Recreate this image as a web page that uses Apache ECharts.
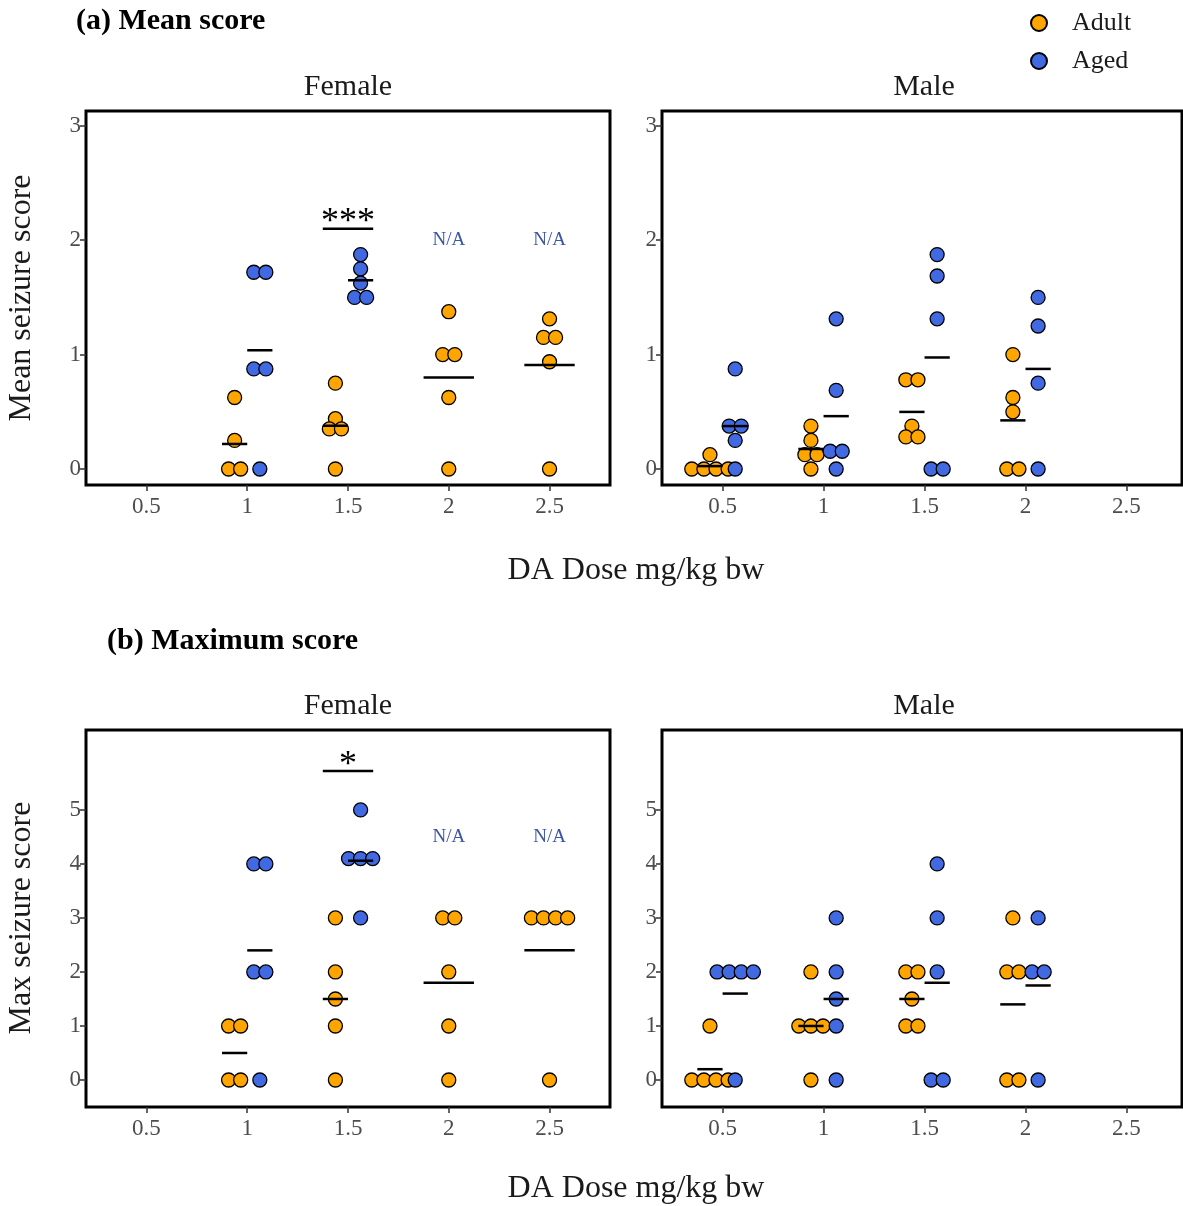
<!DOCTYPE html>
<html>
<head>
<meta charset="utf-8">
<script src="https://cdn.jsdelivr.net/npm/echarts@6/dist/echarts.min.js"></script>
<style>
  html, body { margin: 0; padding: 0; background: #fff; }
  #chart { width: 1183px; height: 1206px; }
</style>
</head>
<body>
<div id="chart"></div>
<script>
// doses per sex panel
var doseFemale = [1, 1.5, 2, 2.5];
var doseMale = [0.5, 1, 1.5, 2];
var xTicks = [0.5, 1, 1.5, 2, 2.5];
var yTicksMean = [0, 1, 2, 3];
var yTicksMax = [0, 1, 2, 3, 4, 5];

// (a) mean seizure score, one list per dose
var meanFemaleAdult = [[0.625, 0.25, 0, 0], [0.75, 0.44, 0.35, 0.35, 0], [1.375, 1, 1, 0.625, 0], [1.3125, 1.15, 1.15, 0.9375, 0]];
var meanFemaleAged = [[1.72, 1.72, 0.875, 0.875, 0], [1.875, 1.75, 1.625, 1.5, 1.5], [], []];
var meanMaleAdult = [[0.125, 0, 0, 0, 0], [0.375, 0.25, 0.125, 0.125, 0], [0.78, 0.78, 0.375, 0.28, 0.28], [1, 0.625, 0.5, 0, 0]];
var meanMaleAged = [[0.875, 0.375, 0.375, 0.25, 0], [1.3125, 0.6875, 0.155, 0.155, 0], [1.875, 1.6875, 1.3125, 0, 0], [1.5, 1.25, 0.75, 0]];

// (b) max seizure score
var maxFemaleAdult = [[1, 1, 0, 0], [3, 2, 1.5, 1, 0], [3, 3, 2, 1, 0], [3, 3, 3, 3, 0]];
var maxFemaleAged = [[4, 4, 2, 2, 0], [5, 4.1, 4.1, 4.1, 3], [], []];
var maxMaleAdult = [[1, 0, 0, 0, 0], [2, 1, 1, 1, 0], [2, 2, 1.5, 1, 1], [3, 2, 2, 0, 0]];
var maxMaleAged = [[2, 2, 2, 2, 0], [3, 2, 1.5, 1, 0], [4, 3, 2, 0, 0], [3, 2, 2, 0]];

// annotations (female panels only)
var sigDose = 1.5;
var sigMeanY = 2.1, sigMaxY = 5.72;
var sigMeanLabel = '***', sigMaxLabel = '*';
var naDoses = [2, 2.5];
var naMeanY = 2.0, naMaxY = 4.5;

var ADULT = '#FFA500', AGED = '#4169E1';
var FONT = '"Liberation Serif", "DejaVu Serif", serif';
var dodge = 0.0625, spread = 0.06;

// equal values side by side, centred on the group
function swarm(values, center) {
  var counts = {}, seen = {};
  values.forEach(function (v) { counts[v] = (counts[v] || 0) + 1; });
  return values.map(function (v) {
    seen[v] = seen[v] === undefined ? 0 : seen[v] + 1;
    return [center + (seen[v] - (counts[v] - 1) / 2) * spread, v];
  });
}
function avg(a) { var s = 0; for (var i = 0; i < a.length; i++) s += a[i]; return s / a.length; }

var panels = [
  { doses: doseFemale, adult: meanFemaleAdult, aged: meanFemaleAged, max: 2.8, yMin: -0.14, yMax: 3.13, yTicks: yTicksMean, sig: [sigDose, sigMeanY, sigMeanLabel], naY: naMeanY },
  { doses: doseMale, adult: meanMaleAdult, aged: meanMaleAged, max: 2.775, yMin: -0.14, yMax: 3.13, yTicks: yTicksMean },
  { doses: doseFemale, adult: maxFemaleAdult, aged: maxFemaleAged, max: 2.8, yMin: -0.5, yMax: 6.48, yTicks: yTicksMax, sig: [sigDose, sigMaxY, sigMaxLabel], naY: naMaxY },
  { doses: doseMale, adult: maxMaleAdult, aged: maxMaleAged, max: 2.775, yMin: -0.5, yMax: 6.48, yTicks: yTicksMax }
];

var grids = [
  { left: 86, top: 111, width: 524, height: 374 },
  { left: 662, top: 111, width: 520, height: 374 },
  { left: 86, top: 730, width: 524, height: 377 },
  { left: 662, top: 730, width: 520, height: 377 }
];

var xAxes = [], yAxes = [], series = [];
var tickStyle = { show: true, length: 6, lineStyle: { color: '#333', width: 1.5 } };
var labelStyle = { color: '#4d4d4d', fontSize: 23, fontFamily: FONT };

panels.forEach(function (p, k) {
  grids[k].show = true;
  grids[k].borderColor = '#000';
  grids[k].borderWidth = 3;
  xAxes.push({
    gridIndex: k, type: 'value', min: 0.2, max: p.max, position: 'bottom',
    axisLine: { show: false, onZero: false }, splitLine: { show: false },
    axisTick: Object.assign({ customValues: xTicks }, tickStyle),
    axisLabel: Object.assign({ customValues: xTicks, margin: 10 }, labelStyle)
  });
  yAxes.push({
    gridIndex: k, type: 'value', min: p.yMin, max: p.yMax, position: 'left',
    axisLine: { show: false, onZero: false }, splitLine: { show: false },
    axisTick: Object.assign({ customValues: p.yTicks }, tickStyle),
    axisLabel: Object.assign({ customValues: p.yTicks, margin: 5 }, labelStyle)
  });

  var adultPts = [], agedPts = [], means = [];
  p.doses.forEach(function (d, j) {
    var a = p.adult[j], g = p.aged[j];
    var both = a.length && g.length;
    var hw = both ? dodge : 2 * dodge;
    if (a.length) {
      var ca = d - (g.length ? dodge : 0);
      adultPts = adultPts.concat(swarm(a, ca));
      means.push([ca, avg(a), hw]);
    }
    if (g.length) {
      var cg = d + (a.length ? dodge : 0);
      agedPts = agedPts.concat(swarm(g, cg));
      means.push([cg, avg(g), hw]);
    }
  });

  [['Adult', ADULT, adultPts], ['Aged', AGED, agedPts]].forEach(function (s, i) {
    series.push({
      name: s[0], type: 'scatter', xAxisIndex: k, yAxisIndex: k,
      symbol: 'circle', symbolSize: 14, z: 2 + i,
      itemStyle: { color: s[1], borderColor: '#000', borderWidth: 1.3, opacity: 1 },
      emphasis: { disabled: true },
      data: s[2]
    });
  });

  series.push({
    type: 'custom', xAxisIndex: k, yAxisIndex: k, z: 5, silent: true,
    data: means,
    renderItem: function (params, api) {
      var x = api.value(0), y = api.value(1), h = api.value(2);
      var p1 = api.coord([x - h, y]), p2 = api.coord([x + h, y]);
      return { type: 'line', shape: { x1: p1[0], y1: p1[1], x2: p2[0], y2: p2[1] }, style: { stroke: '#000', lineWidth: 2.5 } };
    }
  });

  if (p.sig) {
    var sig = p.sig;
    series.push({
      type: 'custom', xAxisIndex: k, yAxisIndex: k, z: 5, silent: true,
      data: [[sig[0], sig[1]]],
      renderItem: function (params, api) {
        var x = api.value(0), y = api.value(1);
        var p1 = api.coord([x - 2 * dodge, y]), p2 = api.coord([x + 2 * dodge, y]), c = api.coord([x, y]);
        return { type: 'group', children: [
          { type: 'line', shape: { x1: p1[0], y1: p1[1], x2: p2[0], y2: p2[1] }, style: { stroke: '#000', lineWidth: 2.5 } },
          { type: 'text', x: c[0], y: c[1] - 6, style: { text: sig[2], fill: '#000', font: '36px ' + FONT, align: 'center', verticalAlign: 'middle' } }
        ] };
      }
    });
    series.push({
      type: 'custom', xAxisIndex: k, yAxisIndex: k, z: 5, silent: true,
      data: naDoses.map(function (d) { return [d, p.naY]; }),
      renderItem: function (params, api) {
        var c = api.coord([api.value(0), api.value(1)]);
        return { type: 'text', x: c[0], y: c[1], style: { text: 'N/A', fill: '#3A55A8', font: '19px ' + FONT, align: 'center', verticalAlign: 'middle' } };
      }
    });
  }
});

function txt(text, x, y, font, opts) {
  var o = { type: 'text', x: x, y: y, style: { text: text, font: font, fill: '#1a1a1a', align: 'center', verticalAlign: 'middle' } };
  if (opts) Object.assign(o, opts);
  return o;
}

var graphics = [
  txt('(a) Mean score', 76, 21, 'bold 30px ' + FONT, {}),
  txt('(b) Maximum score', 107, 641, 'bold 30px ' + FONT, {}),
  txt('Female', 348, 87, '30px ' + FONT),
  txt('Male', 924, 87, '30px ' + FONT),
  txt('Female', 348, 706, '30px ' + FONT),
  txt('Male', 924, 706, '30px ' + FONT),
  txt('DA Dose mg/kg bw', 636, 571, '32px ' + FONT),
  txt('DA Dose mg/kg bw', 636, 1189, '32px ' + FONT),
  txt('Mean seizure score', 22, 298, '32px ' + FONT, { rotation: Math.PI / 2 }),
  txt('Max seizure score', 22, 918, '32px ' + FONT, { rotation: Math.PI / 2 })
];
graphics[0].style.align = 'left'; graphics[0].style.fill = '#000';
graphics[1].style.align = 'left'; graphics[1].style.fill = '#000';

var chart = echarts.init(document.getElementById('chart'), null, { renderer: 'canvas' });
chart.setOption({
  animation: false,
  backgroundColor: '#fff',
  grid: grids,
  xAxis: xAxes,
  yAxis: yAxes,
  legend: {
    data: ['Adult', 'Aged'], orient: 'vertical', left: 1025, top: 4,
    icon: 'circle', itemWidth: 16, itemHeight: 16, itemGap: 10,
    selectedMode: false,
    textStyle: { fontSize: 26, fontFamily: FONT, color: '#1a1a1a', lineHeight: 28, padding: [0, 0, 0, 20] }
  },
  graphic: graphics,
  series: series
});
</script>
</body>
</html>
